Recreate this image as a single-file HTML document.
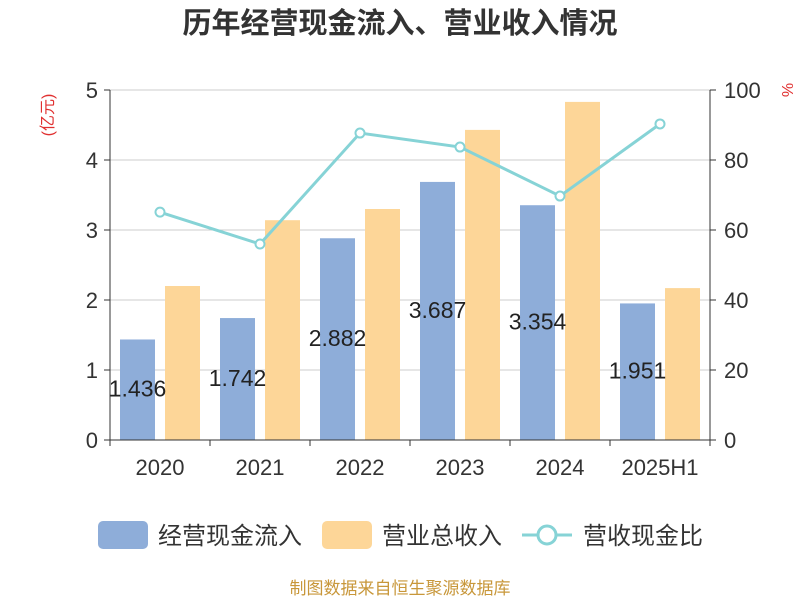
<!DOCTYPE html>
<html><head><meta charset="utf-8"><style>
body{margin:0;background:#fff;font-family:"Liberation Sans","Noto Sans CJK SC",sans-serif}
</style></head><body>
<svg id="c" width="800" height="600" xmlns="http://www.w3.org/2000/svg" style="font-family:'Liberation Sans','Noto Sans CJK SC',sans-serif">
<text x="400" y="33" text-anchor="middle" font-size="29" font-weight="bold" fill="#333">历年经营现金流入、营业收入情况</text>
<text transform="translate(53,115) rotate(-90)" text-anchor="middle" font-size="16" fill="#e03030">(亿元)</text>
<text transform="translate(782,90) rotate(90)" text-anchor="middle" font-size="16" fill="#e03030">%</text>
<g id="grid"></g><g id="bars"></g><g id="line"></g><g id="axes"></g>
<g>
<rect x="98" y="521" width="50" height="28" rx="5" fill="#8eadd9"/>
<text x="158" y="544" font-size="24" fill="#333">经营现金流入</text>
<rect x="322" y="521" width="50" height="28" rx="5" fill="#fdd698"/>
<text x="382" y="544" font-size="24" fill="#333">营业总收入</text>
<line x1="522" y1="535" x2="572" y2="535" stroke="#86d3d6" stroke-width="3"/>
<circle cx="547" cy="535" r="9" fill="#fff" stroke="#86d3d6" stroke-width="3"/>
<text x="583" y="544" font-size="24" fill="#333">营收现金比</text>
</g>
<text x="400" y="594" text-anchor="middle" font-size="17" fill="#c8973a">制图数据来自恒生聚源数据库</text>
</svg>
<script>
const categories=["2020","2021","2022","2023","2024","2025H1"];
const cashIn=[1.436,1.742,2.882,3.687,3.354,1.951];
const revenue=[2.2,3.14,3.3,4.43,4.83,2.17];
const ratio=[65.1,56,87.7,83.7,69.7,90.3];
const leftTicks=[0,1,2,3,4,5];
const rightTicks=[0,20,40,60,80,100];
const NS="http://www.w3.org/2000/svg";
const L=110,R=710,T=90,B=440;
const yL=v=>B-(v/5)*(B-T), yR=v=>B-(v/100)*(B-T);
const bw=(R-L)/categories.length, xc=i=>L+bw*(i+0.5);
function mk(tag,attrs,parent,txt){const e=document.createElementNS(NS,tag);for(const k in attrs)e.setAttribute(k,attrs[k]);if(txt!=null)e.textContent=txt;document.getElementById(parent).appendChild(e);return e;}
leftTicks.forEach(v=>{
 const g=mk("line",{x1:L,x2:R,y1:yL(v),y2:yL(v),stroke:"#ccc","stroke-width":1},"grid");
 
 
 mk("line",{x1:L-6,x2:L,y1:yL(v),y2:yL(v),stroke:"#333"},"axes");
 const t=mk("text",{x:L-12,y:yL(v)+8,"text-anchor":"end","font-size":22,fill:"#333"},"axes",v);
 
 
});
rightTicks.forEach(v=>{
 mk("line",{x1:R,x2:R+6,y1:yR(v),y2:yR(v),stroke:"#333"},"axes");
 const t=mk("text",{x:R+14,y:yR(v)+8,"font-size":22,fill:"#333"},"axes",v);
 
 
});
mk("line",{x1:L,x2:L,y1:T,y2:B,stroke:"#333"},"axes");
mk("line",{x1:R,x2:R,y1:T,y2:B,stroke:"#333"},"axes");
mk("line",{x1:L,x2:R,y1:B,y2:B,stroke:"#333"},"axes");
categories.forEach((c,i)=>{
 mk("line",{x1:L+bw*i,x2:L+bw*i,y1:B,y2:B+6,stroke:"#333"},"axes");
 const t=mk("text",{x:xc(i),y:B+35,"text-anchor":"middle","font-size":22,fill:"#333"},"axes",c);
 
 
 const b1=mk("rect",{x:xc(i)-40,y:yL(cashIn[i]),width:35,height:B-yL(cashIn[i]),fill:"#8eadd9"},"bars");
 
 
 const b2=mk("rect",{x:xc(i)+5,y:yL(revenue[i]),width:35,height:B-yL(revenue[i]),fill:"#fdd698"},"bars");
 
 
});
mk("line",{x1:R,x2:R,y1:B,y2:B+6,stroke:"#333"},"axes");
const pts=ratio.map((v,i)=>xc(i)+","+yR(v)).join(" ");
const pl=mk("polyline",{points:pts,fill:"none",stroke:"#86d3d6","stroke-width":3},"line");


ratio.forEach((v,i)=>{
 const c=mk("circle",{cx:xc(i),cy:yR(v),r:4.5,fill:"#fff",stroke:"#86d3d6","stroke-width":2},"line");
 
 
});
cashIn.forEach((v,i)=>{
 const t=mk("text",{x:xc(i)-22.5,y:(yL(v)+B)/2+7,"text-anchor":"middle","font-size":23,fill:"#222"},"line",v.toFixed(3));
 
 
});
</script>
</body></html>
